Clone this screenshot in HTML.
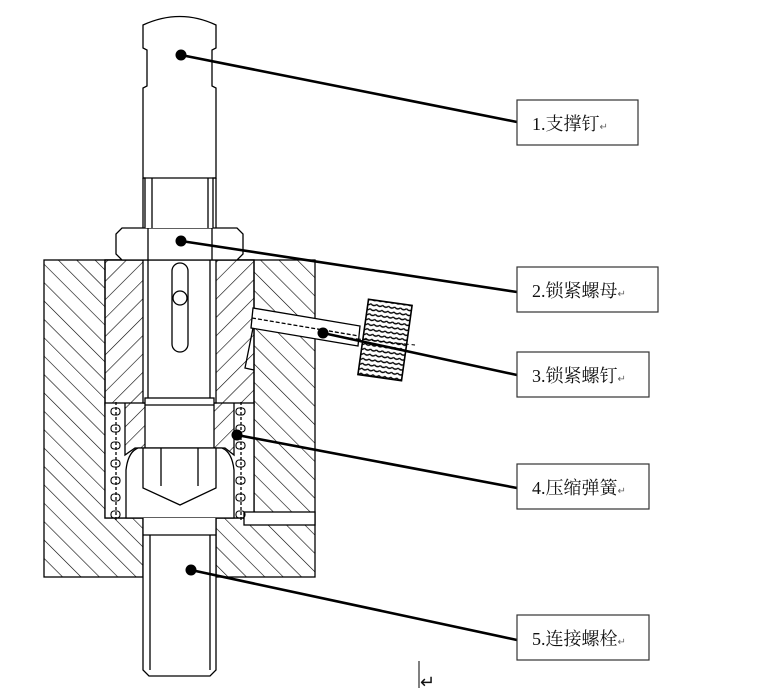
<!DOCTYPE html>
<html><head><meta charset="utf-8"><style>
html,body{margin:0;padding:0;background:#fff;}
svg{display:block}
text{font-family:"Liberation Serif","Noto Serif CJK SC","Noto Sans CJK SC",serif;font-size:18px;fill:#111}
</style></head><body>
<svg width="761" height="697" viewBox="0 0 761 697" xmlns="http://www.w3.org/2000/svg">
<defs>
<pattern id="bs" width="13" height="13" patternUnits="userSpaceOnUse" patternTransform="rotate(-45)">
<line x1="0" y1="0" x2="0" y2="13" stroke="#000" stroke-width="1.2"/></pattern>
<pattern id="fs" width="13" height="13" patternUnits="userSpaceOnUse" patternTransform="rotate(45)">
<line x1="0" y1="0" x2="0" y2="13" stroke="#000" stroke-width="1.2"/></pattern>
<pattern id="kn" width="6" height="5" patternUnits="userSpaceOnUse">
<rect width="6" height="5" fill="#fff"/><path d="M0 1 Q3 4 6 1" stroke="#000" fill="none" stroke-width="1.3"/></pattern>
</defs>
<g stroke="#000" stroke-width="1.3" fill="none">
<rect x="44" y="260" width="271" height="317" fill="url(#bs)"/>
<rect x="105" y="260" width="149" height="258" fill="#fff"/>
<rect x="105" y="260" width="149" height="145" fill="url(#fs)"/>
<rect x="105" y="403" width="149" height="115" fill="#fff"/>
<rect x="125" y="403" width="109" height="48" fill="url(#fs)" stroke="none"/>
<path d="M125 403 V455 L135 448 H225 L234 455 V403"/>
<rect x="244" y="512" width="71" height="13" fill="#fff"/>
<rect x="143" y="518" width="73" height="59" fill="#fff" stroke="none"/>
<line x1="143" y1="518" x2="143" y2="577"/><line x1="216" y1="518" x2="216" y2="577"/>
<rect x="143" y="260" width="73" height="143" fill="#fff"/>
<line x1="148" y1="260" x2="148" y2="403"/><line x1="210" y1="260" x2="210" y2="403"/>
<rect x="172" y="263" width="16" height="89" rx="8"/>
<circle cx="180" cy="298" r="7"/>
<rect x="145" y="398" width="69" height="50" fill="#fff"/>
<line x1="145" y1="405" x2="214" y2="405"/>
<path d="M126 518 V470 Q128 452 138 448 H222 Q232 452 234 470 V518 Z" fill="#fff"/>
<path d="M143 448 V488 L180 505 L216 488 V448"/>
<line x1="161" y1="448" x2="161" y2="486"/><line x1="198" y1="448" x2="198" y2="486"/>
<line x1="116" y1="402" x2="116" y2="520" stroke-dasharray="3 2"/>
<line x1="241" y1="402" x2="241" y2="520" stroke-dasharray="3 2"/>
<g stroke-width="1.1">
<rect x="111" y="408" width="9" height="7" rx="3"/><rect x="111" y="425" width="9" height="7" rx="3"/><rect x="111" y="442" width="9" height="7" rx="3"/><rect x="111" y="460" width="9" height="7" rx="3"/><rect x="111" y="477" width="9" height="7" rx="3"/><rect x="111" y="494" width="9" height="7" rx="3"/><rect x="111" y="511" width="9" height="7" rx="3"/>
<rect x="236" y="408" width="9" height="7" rx="3"/><rect x="236" y="425" width="9" height="7" rx="3"/><rect x="236" y="442" width="9" height="7" rx="3"/><rect x="236" y="460" width="9" height="7" rx="3"/><rect x="236" y="477" width="9" height="7" rx="3"/><rect x="236" y="494" width="9" height="7" rx="3"/><rect x="236" y="511" width="9" height="7" rx="3"/>
</g>
<path d="M143 518 V670 L149 676 H210 L216 670 V518" fill="#fff"/>
<line x1="150" y1="535" x2="150" y2="670"/><line x1="210" y1="535" x2="210" y2="670"/>
<line x1="143" y1="535" x2="216" y2="535"/>
<path d="M122 228 H237 L243 234 V254 L237 260 H122 L116 254 V234 Z" fill="#fff"/>
<line x1="148" y1="228" x2="148" y2="260"/><line x1="212" y1="228" x2="212" y2="260"/>
<path d="M145 228 V178 H143 V88 L147 86 V50 L143 48 V25 Q180 8 216 25 V48 L212 50 V86 L216 88 V178 H213 V228" fill="#fff"/>
<line x1="143" y1="178" x2="216" y2="178"/>
<line x1="152" y1="178" x2="152" y2="228"/><line x1="208" y1="178" x2="208" y2="228"/>
<line x1="143" y1="178" x2="143" y2="228"/><line x1="216" y1="178" x2="216" y2="228"/>
<path d="M253 308 L360 326 L358 346 L251 328 Z" fill="#fff"/>
<line x1="252" y1="318" x2="359" y2="336" stroke-dasharray="4 2"/>
<path d="M253 328 L245 368 L254 370" />
<g transform="rotate(8 385 340)"><rect x="363" y="302" width="44" height="76" fill="url(#kn)" stroke-width="1.6"/></g>
<line x1="340" y1="337" x2="415" y2="345" stroke-dasharray="5 3" stroke-width="1"/>
</g>
<g stroke="#000" stroke-width="2.6">
<line x1="181" y1="55" x2="517" y2="122"/>
<line x1="181" y1="241" x2="517" y2="292"/>
<line x1="323" y1="333" x2="517" y2="375"/>
<line x1="237" y1="435" x2="517" y2="488"/>
<line x1="191" y1="570" x2="517" y2="640"/>
</g>
<g fill="#000"><circle cx="181" cy="55" r="5.5"/><circle cx="181" cy="241" r="5.5"/><circle cx="323" cy="333" r="5.5"/><circle cx="237" cy="435" r="5.5"/><circle cx="191" cy="570" r="5.5"/></g>
<g fill="#fff" stroke="#333" stroke-width="1.2">
<rect x="517" y="100" width="121" height="45"/>
<rect x="517" y="267" width="141" height="45"/>
<rect x="517" y="352" width="132" height="45"/>
<rect x="517" y="464" width="132" height="45"/>
<rect x="517" y="615" width="132" height="45"/>
</g>
<text x="532" y="130">1.支撑钉<tspan font-size="10" fill="#666">↵</tspan></text>
<text x="532" y="297">2.锁紧螺母<tspan font-size="10" fill="#666">↵</tspan></text>
<text x="532" y="382">3.锁紧螺钉<tspan font-size="10" fill="#666">↵</tspan></text>
<text x="532" y="494">4.压缩弹簧<tspan font-size="10" fill="#666">↵</tspan></text>
<text x="532" y="645">5.连接螺栓<tspan font-size="10" fill="#666">↵</tspan></text>
<line x1="419" y1="661" x2="419" y2="688" stroke="#000" stroke-width="1"/>
<text x="420" y="688" font-size="7" fill="#888">↵</text>
</svg>
</body></html>
